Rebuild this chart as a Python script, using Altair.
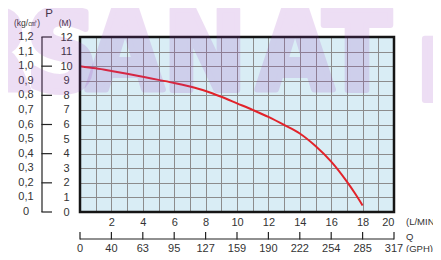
import altair as alt
import pandas as pd

# ---- data ----
flow_lpm = [0, 1, 2, 3, 4, 5, 6, 7, 8, 9, 10, 11, 12, 13, 14, 15, 16, 17, 17.5, 18]
head_m = [10.0, 9.85, 9.67, 9.48, 9.27, 9.06, 8.85, 8.6, 8.3, 7.9, 7.45, 7.0, 6.52, 5.97, 5.38, 4.52, 3.45, 2.08, 1.3, 0.45]

lpm_ticks = [0, 2, 4, 6, 8, 10, 12, 14, 16, 18, 20]
gph_labels = ["0", "40", "63", "95", "127", "159", "190", "222", "254", "285", "317"]
m_values = [0, 1, 2, 3, 4, 5, 6, 7, 8, 9, 10, 11, 12]
kg_labels = ["0", "0,1", "0,2", "0,3", "0,4", "0,5", "0,6", "0,7", "0,8", "0,9", "1,0", "1,1", "1,2"]
m_tick_marks = [0, 2, 4, 6, 8, 10, 12]
watermark_letters = ["R", "S", "A", "N", "A", "T", "I"]

# ---- layout (pixels relative to plot area) ----
W, H = 314, 175
wm_x = [-88, -18, 45, 125, 215, 277, 352]
wm_y = [53, 53, 53, 53, 53, 53, 63]
wm_size = [110, 110, 110, 110, 110, 110, 84]

FONT = "Liberation Sans"
TXT = "#333333"

curve_df = pd.DataFrame({"q": flow_lpm, "h": head_m})
gph_df = pd.DataFrame({"q": lpm_ticks, "gph": gph_labels})
kg_df = pd.DataFrame({"m": m_values, "kg": kg_labels})
mt_df = pd.DataFrame({"m": m_tick_marks})
wm_df = pd.DataFrame({"t": watermark_letters, "px": wm_x, "py": wm_y, "fs": wm_size})
one = pd.DataFrame({"a": [0]})

xscale = alt.Scale(domain=[0, 20], nice=False, zero=False)
yscale = alt.Scale(domain=[0, 12], nice=False, zero=False)

X_AX = alt.Axis(
    values=list(range(0, 21)), grid=True, gridColor="#8c8c8c", gridOpacity=1, gridWidth=1,
    ticks=False, tickSize=0, domain=False, title=None,
    labelExpr="datum.value % 2 == 0 && datum.value > 0 ? datum.label : ''",
    labelPadding=4, labelFontSize=11, labelColor=TXT, labelFont=FONT)
Y_AX = alt.Axis(
    values=m_values, grid=True, gridColor="#8c8c8c", gridOpacity=1, gridWidth=1,
    ticks=False, tickSize=0, domain=False, title=None,
    labelAlign="center", labelBaseline="middle", labelPadding=14,
    labelFontSize=11, labelColor=TXT, labelFont=FONT)

curve = alt.Chart(curve_df).mark_line(
    color="#e2232a", strokeWidth=2, interpolate="monotone"
).encode(
    x=alt.X("q:Q", scale=xscale, axis=X_AX),
    y=alt.Y("h:Q", scale=yscale, axis=Y_AX),
)

border = alt.Chart(one).mark_rect(fill="transparent", stroke="#151515", strokeWidth=2.5).encode(
    x=alt.value(0), x2=alt.value(W), y=alt.value(0), y2=alt.value(H))

left_line = alt.Chart(one).mark_rule(color="#222222", strokeWidth=1.2).encode(
    x=alt.value(-38), y=alt.Y(datum=0, scale=yscale, axis=Y_AX), y2=alt.Y2(datum=12))
left_ticks = alt.Chart(mt_df).mark_rule(color="#222222", strokeWidth=1.2).encode(
    x=alt.value(-38.6), x2=alt.value(-28), y=alt.Y("m:Q", scale=yscale, axis=Y_AX))
kg_text = alt.Chart(kg_df).mark_text(
    align="center", baseline="middle", fontSize=11, font=FONT, color=TXT).encode(
    x=alt.value(-54), y=alt.Y("m:Q", scale=yscale, axis=Y_AX), text="kg:N")

gph_line = alt.Chart(one).mark_rule(color="#222222", strokeWidth=1.2).encode(
    x=alt.X(datum=0, scale=xscale, axis=X_AX), x2=alt.X2(datum=20), y=alt.value(202))
gph_ticks = alt.Chart(gph_df).mark_rule(color="#222222", strokeWidth=1.2).encode(
    x=alt.X("q:Q", scale=xscale, axis=X_AX), y=alt.value(195), y2=alt.value(202.6))
gph_text = alt.Chart(gph_df).mark_text(
    align="center", baseline="alphabetic", fontSize=11, font=FONT, color=TXT).encode(
    x=alt.X("q:Q", scale=xscale, axis=X_AX), y=alt.value(214.5), text="gph:N")

def label(txt, x, y, size=10, align="center", baseline="middle"):
    return alt.Chart(one).mark_text(
        text=txt, align=align, baseline=baseline, fontSize=size, font=FONT, color=TXT
    ).encode(x=alt.value(x), y=alt.value(y))

notes = [
    label("P", -31, -23, 11.5),
    label("(kg/㎠)", -53, -14, 8.5),
    label("(M)", -15, -14, 8.5),
    label("(L/MIN", 326, 185, 9.5, "left"),
    label("Q", 326, 200, 9.5, "left"),
    label("(GPH)", 326, 214.5, 9.5, "left", "alphabetic"),
]

watermark = alt.Chart(wm_df).mark_text(
    font="'Liberation Sans Narrow', 'DejaVu Sans Condensed', 'Roboto Condensed', 'DejaVu Sans', sans-serif",
    fontWeight="bold", align="center",
    baseline="alphabetic", color="#9b3fc0", stroke="#9b3fc0", strokeWidth=6,
    strokeJoin="round", opacity=0.17
).encode(
    x=alt.X("px:Q", scale=None, axis=None), y=alt.Y("py:Q", scale=None, axis=None),
    size=alt.Size("fs:Q", scale=None, legend=None), text="t:N")

chart = alt.layer(
    curve, border, left_line, left_ticks, kg_text, gph_line, gph_ticks, gph_text, *notes, watermark
).properties(
    width=W, height=H,
    autosize=alt.AutoSizeParams(type="none"),
    padding={"left": 72, "top": 29, "right": 39, "bottom": 40},
).configure_view(fill="#d9edf5", stroke=None)

chart.save("out.html", embed_options={"renderer": "svg", "actions": False})
